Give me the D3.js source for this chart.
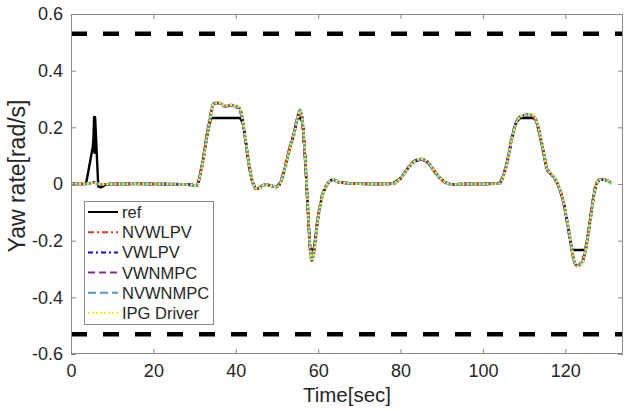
<!DOCTYPE html>
<html>
<head>
<meta charset="utf-8">
<script src="https://cdn.jsdelivr.net/npm/d3@7"></script>
<style>
  html, body { margin: 0; padding: 0; background: #fff; }
  svg { display: block; }
  text { font-family: "Liberation Sans", Arial, Helvetica, sans-serif; fill: #262626; }
</style>
</head>
<body>
<svg id="chart" width="625" height="411"></svg>
<script>
// Time stamps shared by every yaw-rate trace [s]
const time = [
  0, 3, 3.64, 4.5, 5.27, 5.45, 5.6, 5.7, 5.85, 6.62,
  7.3, 8.2, 9.5, 12, 16, 20, 25, 29, 30, 30.5,
  31, 32, 33, 34, 34.6, 35.5, 36.5, 37.5, 38.5, 39.5,
  40.3, 41, 41.8, 42.6, 43.3, 44, 44.8, 45.5, 46.5, 47.5,
  48.5, 50, 51, 52, 53, 54, 55, 55.6, 56.2, 56.8,
  57.4, 58, 58.4, 58.9, 59.6, 60.3, 61, 62, 63, 63.6,
  65, 67, 70, 75, 78, 80, 81.5, 83, 85, 86.5,
  88, 89.5, 91, 92.5, 95, 100, 104, 105, 106, 107,
  108, 109, 110, 111, 112, 112.8, 113.4, 114.6, 115.5, 116.3,
  117.1, 118, 118.7, 119.5, 120.3, 121, 121.6, 122.2, 122.8, 123.6,
  124.3, 124.9, 125.5, 126.1, 126.8, 127.5, 128.4, 129.5, 130.5, 131.2
];

// Reference yaw rate [rad/s]
const refRate = [
  0, 0, 0, 0.068, 0.13, 0.16, 0.236, 0.11, 0.236, -0.009,
  -0.012, -0.004, 0, 0, 0, 0, 0, -0.002, -0.004, -0.005,
  0.01, 0.08, 0.17, 0.233, 0.233, 0.233, 0.233, 0.233, 0.233, 0.233,
  0.233, 0.233, 0.214, 0.13, 0.06, 0.01, -0.015, -0.015, -0.005, -0.002,
  -0.006, -0.01, 0.01, 0.06, 0.12, 0.17, 0.233, 0.233, 0.22, 0.1,
  -0.06, -0.22, -0.233, -0.233, -0.16, -0.09, -0.04, -0.005, 0.012, 0.016,
  0.006, 0.003, 0.001, 0, 0.001, 0.02, 0.05, 0.076, 0.088, 0.078,
  0.05, 0.022, 0.005, -0.002, 0, 0, 0.002, 0.03, 0.085, 0.16,
  0.215, 0.233, 0.233, 0.233, 0.233, 0.228, 0.2, 0.12, 0.055, 0.038,
  0.026, 0.005, -0.021, -0.06, -0.12, -0.18, -0.233, -0.233, -0.233, -0.233,
  -0.233, -0.233, -0.18, -0.12, -0.05, 0.0, 0.016, 0.015, 0.01, 0.001
];

const nvwlpvRate = [
  0, 0, 0.001, 0.002, 0.004, 0.005, 0.005, 0.005, 0.004, 0.001,
  -0.001, -0.001, 0, 0, 0.001, 0, -0.001, -0.002, -0.004, -0.005,
  0.014, 0.088, 0.178, 0.255, 0.282, 0.285, 0.281, 0.272, 0.277, 0.274,
  0.27, 0.26, 0.205, 0.122, 0.055, 0.008, -0.015, -0.014, -0.005, -0.002,
  -0.006, -0.009, 0.014, 0.066, 0.126, 0.176, 0.238, 0.258, 0.212, 0.09,
  -0.07, -0.228, -0.265, -0.245, -0.152, -0.084, -0.036, -0.004, 0.012, 0.015,
  0.006, 0.003, 0.001, 0, 0.001, 0.021, 0.052, 0.078, 0.088, 0.077,
  0.048, 0.02, 0.004, -0.002, 0, 0, 0.003, 0.034, 0.09, 0.165,
  0.218, 0.238, 0.242, 0.243, 0.24, 0.224, 0.195, 0.115, 0.053, 0.037,
  0.024, 0.003, -0.024, -0.064, -0.125, -0.186, -0.238, -0.277, -0.287, -0.28,
  -0.265, -0.226, -0.172, -0.112, -0.044, 0.003, 0.016, 0.015, 0.01, 0.001
];

const vwlpvRate = [
  0, 0, 0.001, 0.003, 0.005, 0.006, 0.006, 0.006, 0.005, 0.002,
  -0.002, -0.001, 0, 0, 0.001, 0, -0.001, -0.003, -0.005, -0.006,
  0.008, 0.076, 0.165, 0.246, 0.283, 0.288, 0.284, 0.275, 0.28, 0.277,
  0.273, 0.267, 0.218, 0.134, 0.063, 0.012, -0.015, -0.016, -0.006, -0.002,
  -0.006, -0.01, 0.008, 0.057, 0.117, 0.167, 0.232, 0.26, 0.224, 0.106,
  -0.054, -0.214, -0.27, -0.254, -0.164, -0.094, -0.043, -0.006, 0.011, 0.016,
  0.006, 0.003, 0.001, 0, 0.001, 0.019, 0.049, 0.075, 0.088, 0.079,
  0.051, 0.023, 0.006, -0.002, 0, 0, 0.002, 0.028, 0.082, 0.156,
  0.213, 0.237, 0.243, 0.245, 0.243, 0.23, 0.203, 0.124, 0.057, 0.039,
  0.027, 0.006, -0.019, -0.057, -0.116, -0.176, -0.23, -0.273, -0.289, -0.285,
  -0.273, -0.237, -0.185, -0.125, -0.054, -0.002, 0.015, 0.015, 0.01, 0.001
];

const vwnmpcRate = [
  0, 0, 0.001, 0.003, 0.005, 0.006, 0.006, 0.006, 0.005, 0.001,
  -0.002, -0.001, 0, 0, 0.001, 0, -0.001, -0.003, -0.005, -0.006,
  0.011, 0.082, 0.172, 0.251, 0.284, 0.287, 0.283, 0.274, 0.279, 0.276,
  0.272, 0.264, 0.212, 0.128, 0.059, 0.01, -0.016, -0.015, -0.005, -0.002,
  -0.006, -0.01, 0.011, 0.061, 0.121, 0.171, 0.236, 0.261, 0.219, 0.098,
  -0.062, -0.222, -0.269, -0.249, -0.158, -0.089, -0.039, -0.005, 0.012, 0.016,
  0.006, 0.003, 0.001, 0, 0.001, 0.02, 0.05, 0.076, 0.088, 0.078,
  0.05, 0.022, 0.005, -0.002, 0, 0, 0.002, 0.031, 0.086, 0.161,
  0.216, 0.238, 0.243, 0.244, 0.242, 0.227, 0.199, 0.119, 0.055, 0.038,
  0.025, 0.005, -0.022, -0.061, -0.121, -0.181, -0.234, -0.276, -0.288, -0.282,
  -0.269, -0.232, -0.179, -0.119, -0.049, 0.0, 0.016, 0.015, 0.01, 0.001
];

const nvwnmpcRate = [
  0, 0, 0.001, 0.003, 0.005, 0.006, 0.006, 0.006, 0.005, 0.001,
  -0.002, -0.001, 0, 0, 0.001, 0, -0.001, -0.003, -0.005, -0.006,
  0.01, 0.08, 0.17, 0.25, 0.283, 0.287, 0.283, 0.274, 0.279, 0.276,
  0.272, 0.265, 0.214, 0.13, 0.06, 0.01, -0.015, -0.015, -0.005, -0.002,
  -0.006, -0.01, 0.01, 0.06, 0.12, 0.17, 0.235, 0.26, 0.22, 0.1,
  -0.06, -0.22, -0.268, -0.25, -0.16, -0.09, -0.04, -0.005, 0.012, 0.016,
  0.006, 0.003, 0.001, 0, 0.001, 0.02, 0.05, 0.076, 0.088, 0.078,
  0.05, 0.022, 0.005, -0.002, 0, 0, 0.002, 0.03, 0.085, 0.16,
  0.215, 0.238, 0.243, 0.244, 0.242, 0.228, 0.2, 0.12, 0.055, 0.038,
  0.026, 0.005, -0.021, -0.06, -0.12, -0.18, -0.233, -0.275, -0.288, -0.283,
  -0.27, -0.233, -0.18, -0.12, -0.05, 0.0, 0.016, 0.015, 0.01, 0.001
];

const ipgRate = [
  0, 0, 0.001, 0.003, 0.005, 0.006, 0.007, 0.006, 0.005, 0.002,
  -0.002, -0.001, 0, 0, 0.001, 0, -0.001, -0.003, -0.005, -0.006,
  0.007, 0.074, 0.162, 0.244, 0.282, 0.288, 0.285, 0.276, 0.28, 0.277,
  0.274, 0.268, 0.22, 0.137, 0.066, 0.014, -0.014, -0.016, -0.006, -0.002,
  -0.006, -0.01, 0.007, 0.055, 0.115, 0.165, 0.23, 0.259, 0.226, 0.11,
  -0.05, -0.21, -0.271, -0.256, -0.167, -0.097, -0.045, -0.007, 0.011, 0.016,
  0.006, 0.003, 0.001, 0, 0.001, 0.019, 0.048, 0.074, 0.088, 0.08,
  0.052, 0.024, 0.006, -0.002, 0, 0, 0.002, 0.027, 0.08, 0.154,
  0.212, 0.237, 0.243, 0.245, 0.244, 0.232, 0.205, 0.126, 0.058, 0.04,
  0.028, 0.007, -0.018, -0.055, -0.114, -0.173, -0.228, -0.271, -0.289, -0.286,
  -0.275, -0.239, -0.187, -0.128, -0.056, -0.003, 0.015, 0.015, 0.01, 0.001
];

// Yaw-rate stability bounds [rad/s]
const yawLimits = [0.53, -0.53];

const seriesNames = ["ref", "NVWLPV", "VWLPV", "VWNMPC", "NVWNMPC", "IPG Driver"];
const xTicks = [0, 20, 40, 60, 80, 100, 120];
const yTicks = [-0.6, -0.4, -0.2, 0, 0.2, 0.4, 0.6];
const yTickLabels = ["-0.6", "-0.4", "-0.2", "0", "0.2", "0.4", "0.6"];

// Line styling for each trace
const styles = [
  { values: refRate,     color: "#000000", dash: null,      width: 2.4, curve: d3.curveLinear },
  { values: nvwlpvRate,  color: "#e8352b", dash: "6,3,2,3", width: 2.6, curve: d3.curveMonotoneX },
  { values: vwlpvRate,   color: "#0a0af0", dash: "5,3,2,3", width: 2.6, curve: d3.curveMonotoneX },
  { values: vwnmpcRate,  color: "#7e2f8e", dash: "7,4",     width: 2.6, curve: d3.curveMonotoneX },
  { values: nvwnmpcRate, color: "#4f97c4", dash: "8,4",     width: 2.6, curve: d3.curveMonotoneX },
  { values: ipgRate,     color: "#f2f21a", dash: "2,2",     width: 2.6, curve: d3.curveMonotoneX }
];

const svg = d3.select("#chart");
const margin = { left: 71, right: 2, top: 14, bottom: 57 };
const W = 625, H = 411;
const x0 = margin.left, x1 = W - margin.right, y0 = margin.top, y1 = H - margin.bottom;

const x = d3.scaleLinear().domain([0, 134]).range([x0, x1]);
const y = d3.scaleLinear().domain([-0.6, 0.6]).range([y1, y0]);

svg.append("defs").append("clipPath").attr("id", "plotClip")
  .append("rect").attr("x", x0).attr("y", y0).attr("width", x1 - x0).attr("height", y1 - y0);

const plot = svg.append("g").attr("clip-path", "url(#plotClip)");

// Stability bounds
plot.selectAll("line.limit").data(yawLimits).join("line")
  .attr("class", "limit")
  .attr("x1", x0).attr("x2", x1)
  .attr("y1", d => y(d)).attr("y2", d => y(d))
  .attr("stroke", "#000").attr("stroke-width", 4.5)
  .attr("stroke-dasharray", "16,16");

// Yaw-rate traces
styles.forEach(s => {
  const pts = time.map((t, i) => [t, s.values[i]]).filter(p => p[1] !== undefined);
  const line = d3.line().x(d => x(d[0])).y(d => y(d[1])).curve(s.curve);
  plot.append("path").datum(pts)
    .attr("d", line)
    .attr("fill", "none")
    .attr("stroke", s.color)
    .attr("stroke-width", s.width)
    .attr("stroke-linejoin", "round")
    .attr("stroke-dasharray", s.dash);
});

// Axes box with inward ticks on all four sides
const axisColor = "#8a8a8a";
const tickLen = 5;
const axes = svg.append("g");
axes.append("rect").attr("x", x0 + 0.5).attr("y", y0 + 0.5)
  .attr("width", x1 - x0 - 1).attr("height", y1 - y0 - 1)
  .attr("fill", "none").attr("stroke", axisColor).attr("stroke-width", 1);

const bottomAxis = d3.axisBottom(x).tickValues(xTicks).tickSize(-tickLen).tickPadding(10).tickFormat(d3.format("d"));
const topAxis = d3.axisTop(x).tickValues(xTicks).tickSize(-tickLen).tickFormat("");
const leftAxis = d3.axisLeft(y).tickValues(yTicks).tickSize(-tickLen).tickPadding(8)
  .tickFormat((d, i) => yTickLabels[i]);
const rightAxis = d3.axisRight(y).tickValues(yTicks).tickSize(-tickLen).tickFormat("");

function styleAxis(g) {
  g.select(".domain").remove();
  g.selectAll(".tick line").attr("stroke", axisColor);
  g.selectAll(".tick text")
    .attr("font-family", "'Liberation Sans', Arial, Helvetica, sans-serif")
    .attr("font-size", 18).attr("fill", "#262626");
}
axes.append("g").attr("transform", `translate(0,${y1})`).call(bottomAxis).call(styleAxis);
axes.append("g").attr("transform", `translate(0,${y0})`).call(topAxis).call(styleAxis);
axes.append("g").attr("transform", `translate(${x0},0)`).call(leftAxis).call(styleAxis);
axes.append("g").attr("transform", `translate(${x1},0)`).call(rightAxis).call(styleAxis);

// Axis titles
svg.append("text")
  .attr("x", (x0 + x1) / 2).attr("y", 402)
  .attr("text-anchor", "middle").attr("font-size", 20.5)
  .text("Time[sec]");
svg.append("text")
  .attr("transform", `translate(25,176) rotate(-90)`)
  .attr("text-anchor", "middle").attr("font-size", 23)
  .text("Yaw rate[rad/s]");

// Legend
const legend = svg.append("g");
legend.append("rect")
  .attr("x", 84.5).attr("y", 201.5).attr("width", 129).attr("height", 123)
  .attr("fill", "#fff").attr("stroke", axisColor).attr("stroke-width", 1);
const rowY = d3.scaleLinear().domain([0, 5]).range([212, 313]);
seriesNames.forEach((name, i) => {
  const s = styles[i];
  legend.append("line")
    .attr("x1", 88).attr("x2", 118)
    .attr("y1", rowY(i)).attr("y2", rowY(i))
    .attr("stroke", s.color).attr("stroke-width", 2)
    .attr("stroke-dasharray", s.dash);
  legend.append("text")
    .attr("x", 122).attr("y", rowY(i) + 6)
    .attr("font-size", 16.5)
    .text(name);
});
</script>
</body>
</html>
